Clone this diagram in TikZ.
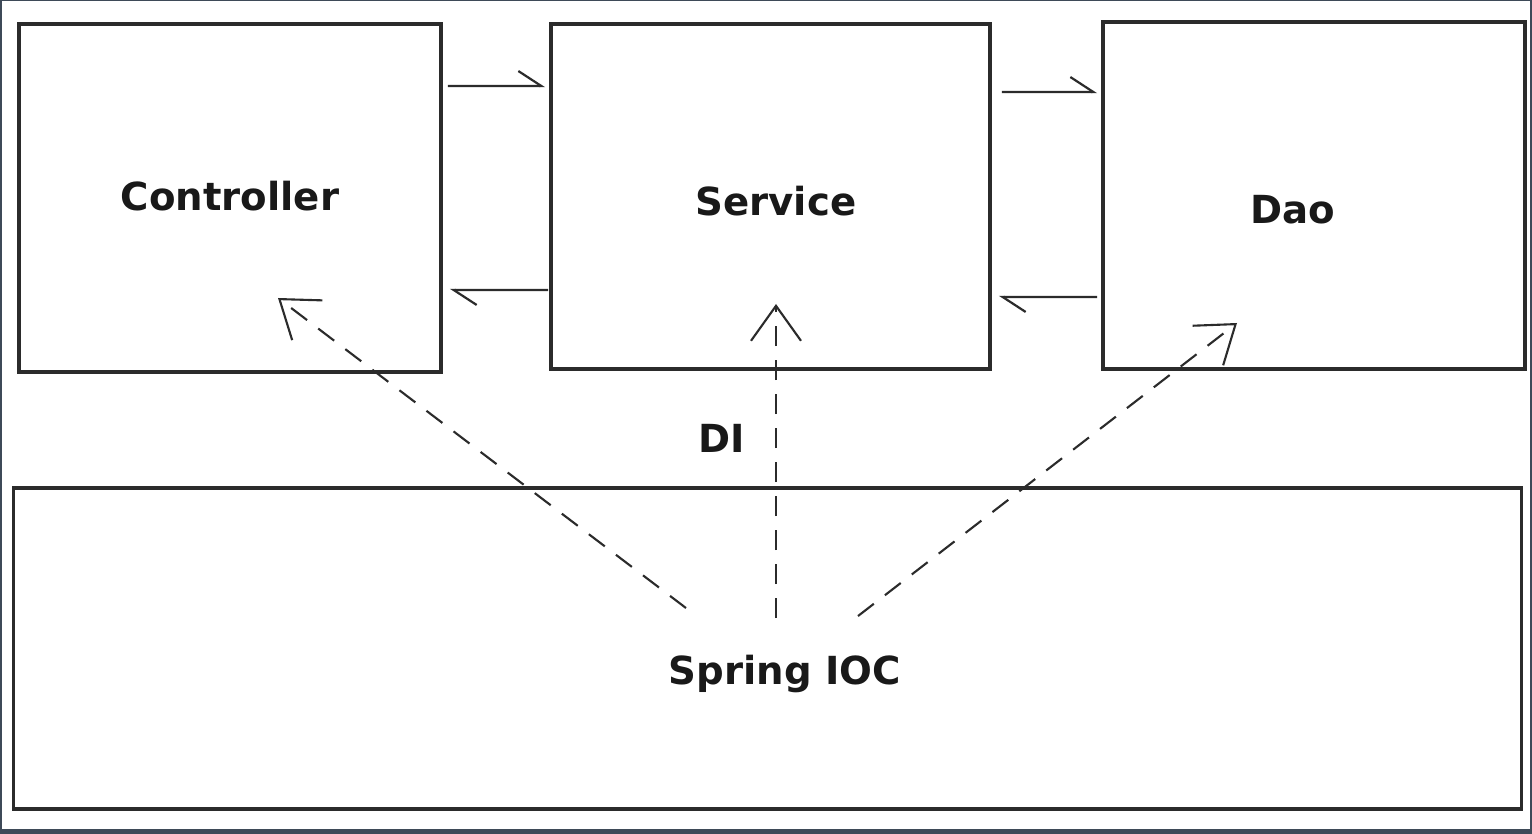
\documentclass[tikz,border=0pt]{standalone}
\usepackage{fontspec}
\setmainfont{DejaVu Sans}
\usetikzlibrary{arrows.meta,calc}
\definecolor{framecol}{HTML}{3E4A58}
\definecolor{linecol}{HTML}{2B2B2B}

\begin{document}
\begin{tikzpicture}[x=0.02cm, y=-0.02cm,
    box/.style={draw=linecol, line width=1.8pt, rectangle, inner sep=0pt, outer sep=0pt},
    lbl/.style={anchor=base, font=\fontsize{22}{26}\selectfont\bfseries, text=black!90},
    call/.style={draw=linecol, line width=1.25pt, -{Straight Barb[left, length=0.46cm, width=0.6cm]}},
    inject/.style={draw=linecol, line width=1.2pt, dash pattern=on 0.4cm off 0.28cm, -{Straight Barb[length=0.7cm, width=1.0cm]}}]
    \fill[framecol] (0,0) rectangle (1532,834);
    \fill[white] (2,1) rectangle (1530,829);
    \useasboundingbox (0,0) rectangle (1532,834);

    \node[box, minimum width=8.44cm, minimum height=6.96cm] (ctrl) at (230,198) {};
    \node[box, minimum width=8.78cm, minimum height=6.9cm] (svc) at (770.5,196.5) {};
    \node[box, minimum width=8.44cm, minimum height=6.94cm] (dao) at (1314,195.5) {};
    \node[box, minimum width=30.18cm, minimum height=6.42cm] (ioc) at (767.5,648.5) {};

    \node[lbl] (ctrllbl) at (230,211) {Controller};
    \node[lbl] (svclbl) at (776,216) {Service};
    \node[lbl] (daolbl) at (1293,224) {Dao};
    \node[lbl] (di) at (722,453) {DI};
    \node[lbl] (ioclbl) at (785,684) {Spring IOC};

    \draw[call] ($(ctrl.north east)+(7,62)$) -- ($(svc.north west)+(-6,62)$);
    \draw[call] ($(svc.south west)+(-3,-79)$) -- ($(ctrl.south east)+(9,-82)$);
    \draw[call] ($(svc.north east)+(12,68)$) -- ($(dao.north west)+(-6,70)$);
    \draw[call] ($(dao.south west)+(-6,-72)$) -- ($(svc.south east)+(9,-72)$);

    \draw[inject] ($(ioc.north)+(-81.5,120)$) -- ($(ctrl.center)+(48,100)$);
    \draw[inject] ($(ioc.north)+(8.5,130)$) -- ($(svc.center)+(5.5,107.5)$);
    \draw[inject] ($(ioc.north)+(90.5,128)$) -- ($(dao.center)+(-77,127.5)$);
\end{tikzpicture}
\end{document}
